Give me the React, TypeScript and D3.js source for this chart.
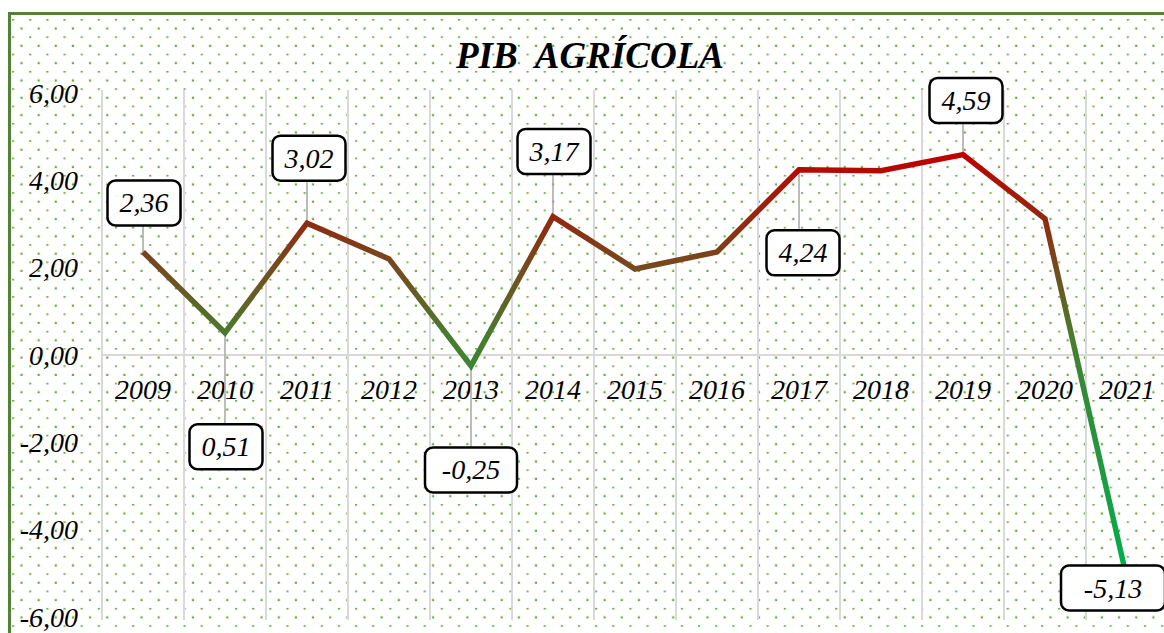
import React from "react";
import * as d3 from "d3";

const years = ["2009","2010","2011","2012","2013","2014","2015","2016","2017","2018","2019","2020","2021"];
const pib = [2.36, 0.51, 3.02, 2.2, -0.25, 3.17, 1.97, 2.36, 4.24, 4.22, 4.59, 3.12, -5.13];
const yTicks = [-6, -4, -2, 0, 2, 4, 6];
const labelledYears = ["2009","2010","2011","2013","2014","2017","2019","2021"];
// label box offsets relative to the point (layout only)
const labelDx = [1, 1, 2, 0, 1, 4, 3, -14];
const labelDy = [-49, 114, -65, 104, -65, 83, -54, 9];
const labelW = [73, 73, 73, 92, 73, 73, 73, 104];
const gradStops: [number, string][] = [
  [4.6, "#c00000"],
  [3.0, "#8e2c12"],
  [2.2, "#7a441c"],
  [0.5, "#4b7a2d"],
  [-0.3, "#3a8634"],
  [-5.2, "#00b050"],
];

const W = 1164, H = 633;
const FONT = "'Liberation Serif', 'Times New Roman', serif";
const fmt = (v: number) => v.toFixed(2).replace(".", ",");

export default function App() {
  const x = d3.scaleBand<string>().domain(years).range([102, 1168]);
  const y = d3.scaleLinear().domain([-6, 6]).range([617, 93]);
  const cx = (yr: string) => (x(yr) as number) + x.bandwidth() / 2;
  const line = d3.line<number>().x((_, i) => cx(years[i])).y((d) => y(d));
  const yTop = y(4.6), yBot = y(-5.2);

  return (
    <svg width={W} height={H} style={{ position: "absolute", left: 0, top: 0, background: "#fff" }}>
      <defs>
        <pattern id="dots" patternUnits="userSpaceOnUse" x={12} y={19} width={17.15} height={17.32}>
          <rect x={0} y={0} width={2.2} height={1.6} fill="#6aaa3e" />
          <rect x={8.4} y={8.4} width={2.2} height={2.2} fill="#6aaa3e" />
        </pattern>
        <linearGradient id="lg" gradientUnits="userSpaceOnUse" x1={0} x2={0} y1={yTop} y2={yBot}>
          {gradStops.map(([v, c], i) => (
            <stop key={i} offset={(y(v) - yTop) / (yBot - yTop)} stopColor={c} />
          ))}
        </linearGradient>
      </defs>
      <rect x={10} y={14} width={W} height={H} fill="url(#dots)" />
      <rect x={9.5} y={13.5} width={W + 20} height={H + 20} fill="none" stroke="#548235" strokeWidth={3} />

      <text x={590} y={55} textAnchor="middle" dominantBaseline="central" fontFamily={FONT}
        fontSize={37} fontWeight="bold" fontStyle="italic" style={{ whiteSpace: "pre" }}>
        {"PIB  AGRÍCOLA"}
      </text>

      {years.map((yr) => (
        <line key={yr} x1={x(yr) as number} x2={x(yr) as number} y1={90} y2={620} stroke="#d9d9d9" strokeWidth={2} />
      ))}
      <line x1={102} x2={W} y1={y(0)} y2={y(0)} stroke="#d9d9d9" strokeWidth={2} />

      {yTicks.map((t) => (
        <text key={t} x={78} y={y(t)} textAnchor="end" dominantBaseline="central" fontFamily={FONT}
          fontSize={28} fontStyle="italic">{fmt(t)}</text>
      ))}
      {years.map((yr) => (
        <text key={yr} x={cx(yr)} y={389} textAnchor="middle" dominantBaseline="central" fontFamily={FONT}
          fontSize={28} fontStyle="italic">{yr}</text>
      ))}

      {labelledYears.map((yr, k) => {
        const i = years.indexOf(yr);
        const px = cx(yr), py = y(pib[i]);
        const by = py + labelDy[k];
        const bh = 45;
        const edge = labelDy[k] < 0 ? by + bh / 2 : by - bh / 2;
        return (
          <line key={"l" + yr} x1={px} y1={py} x2={px} y2={edge} stroke="#a6a6a6" strokeWidth={1.5} />
        );
      })}

      <path d={line(pib) || ""} fill="none" stroke="url(#lg)" strokeWidth={5.5} strokeLinejoin="miter" />

      {labelledYears.map((yr, k) => {
        const i = years.indexOf(yr);
        const px = cx(yr), py = y(pib[i]);
        const bx = px + labelDx[k], by = py + labelDy[k];
        const bw = labelW[k], bh = 45;
        return (
          <g key={"b" + yr}>
            <rect x={bx - bw / 2} y={by - bh / 2} width={bw} height={bh} rx={8} fill="#fff" stroke="#000" strokeWidth={2.5} />
            <text x={bx} y={by} textAnchor="middle" dominantBaseline="central" fontFamily={FONT}
              fontSize={28} fontStyle="italic">{fmt(pib[i])}</text>
          </g>
        );
      })}
    </svg>
  );
}
